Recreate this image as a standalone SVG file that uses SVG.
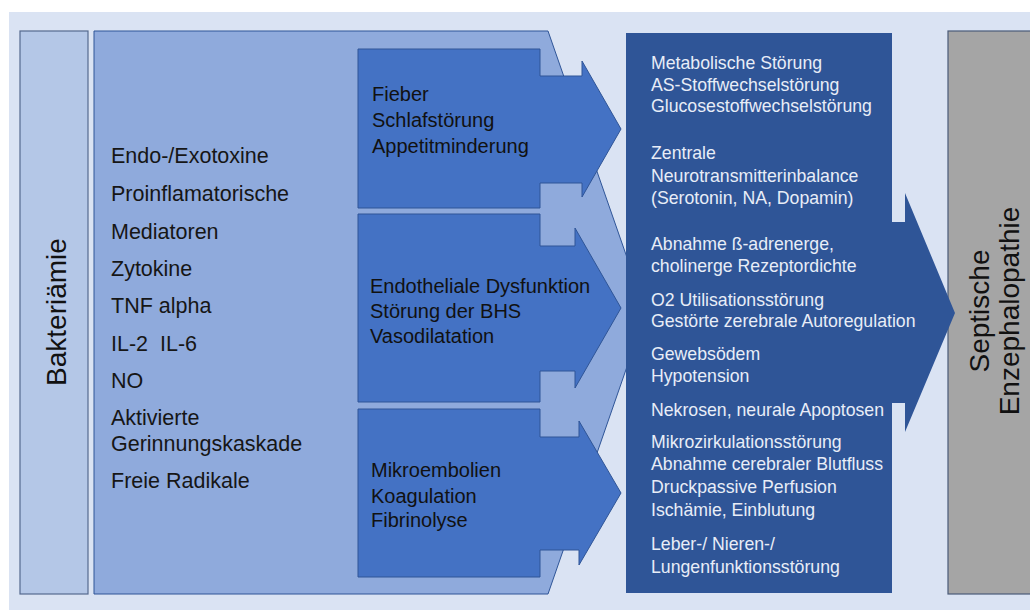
<svg xmlns="http://www.w3.org/2000/svg" width="1030" height="610" viewBox="0 0 1030 610">
<style>
text{font-family:"Liberation Sans",Arial,sans-serif}
.lt{font-size:21.5px;fill:#161616}
.al{font-size:20px;fill:#111111}
.dt{font-size:17.7px;fill:#E8EDF7}
.rt{font-size:28px;fill:#111111;text-anchor:middle}
.inner{fill:#4472C4;stroke:#2F5597;stroke-width:1}
</style>
<rect x="9" y="12" width="1021" height="598" fill="#DAE3F3"/>
<g id="bakteriaemie">
<rect x="20" y="31" width="68" height="563" fill="#B4C7E7" stroke="#55698F" stroke-width="1.2"/>
<text class="rt" transform="translate(66,312) rotate(-90)">Bakteriämie</text>
</g>
<g id="mediatoren">
<path d="M94,31 H548 L646,312 L548,594 H94 Z" fill="#8FAADC" stroke="#2F5597" stroke-width="1"/>
<text class="lt" x="111" y="163">Endo-/Exotoxine</text>
<text class="lt" x="111" y="201">Proinflamatorische</text>
<text class="lt" x="111" y="239">Mediatoren</text>
<text class="lt" x="111" y="276">Zytokine</text>
<text class="lt" x="111" y="313">TNF alpha</text>
<text class="lt" x="111" y="351">IL-2&#160; IL-6</text>
<text class="lt" x="111" y="388">NO</text>
<text class="lt" x="111" y="425">Aktivierte</text>
<text class="lt" x="111" y="451">Gerinnungskaskade</text>
<text class="lt" x="111" y="488">Freie Radikale</text>
</g>
<g id="arrow-fieber">
<path class="inner" d="M358,49 H540 V76 H582 V61 L621,129 L582,197 V183 H540 V208 H358 Z"/>
<text class="al" x="372" y="101">Fieber</text>
<text class="al" x="372" y="127">Schlafstörung</text>
<text class="al" x="372" y="153">Appetitminderung</text>
</g>
<g id="arrow-endothel">
<path class="inner" d="M358,214 H540 V246 H575 V228 L621,308 L575,388 V371 H540 V402 H358 Z"/>
<text class="al" x="370" y="293">Endotheliale Dysfunktion</text>
<text class="al" x="370" y="318">Störung der BHS</text>
<text class="al" x="370" y="343">Vasodilatation</text>
</g>
<g id="arrow-mikroembolien">
<path class="inner" d="M358,409 H540 V437 H579 V421 L621,493 L579,565 V550 H540 V577 H358 Z"/>
<text class="al" x="371" y="477">Mikroembolien</text>
<text class="al" x="371" y="503">Koagulation</text>
<text class="al" x="371" y="527">Fibrinolyse</text>
</g>
<g id="enzephalopathie">
<rect x="948" y="31" width="90" height="563" fill="#A5A5A5" stroke="#4A5A78" stroke-width="1.2"/>
<text class="rt" transform="translate(989,311) rotate(-90)">Septische</text>
<text class="rt" transform="translate(1019,311) rotate(-90)">Enzephalopathie</text>
</g>
<g id="folgen">
<path d="M626,33 H892 V222 H905 V193 L955,313 L905,432 V403 H892 V593 H626 Z" fill="#2F5597"/>
<text class="dt" x="651" y="69">Metabolische Störung</text>
<text class="dt" x="651" y="90.5">AS-Stoffwechselstörung</text>
<text class="dt" x="651" y="112">Glucosestoffwechselstörung</text>
<text class="dt" x="651" y="159">Zentrale</text>
<text class="dt" x="651" y="182">Neurotransmitterinbalance</text>
<text class="dt" x="651" y="204">(Serotonin, NA, Dopamin)</text>
<text class="dt" x="651" y="250">Abnahme ß-adrenerge,</text>
<text class="dt" x="651" y="272">cholinerge Rezeptordichte</text>
<text class="dt" x="651" y="305.5">O2 Utilisationsstörung</text>
<text class="dt" x="651" y="327">Gestörte zerebrale Autoregulation</text>
<text class="dt" x="651" y="360">Gewebsödem</text>
<text class="dt" x="651" y="382">Hypotension</text>
<text class="dt" x="651" y="416">Nekrosen, neurale Apoptosen</text>
<text class="dt" x="651" y="448">Mikrozirkulationsstörung</text>
<text class="dt" x="651" y="469.5">Abnahme cerebraler Blutfluss</text>
<text class="dt" x="651" y="493">Druckpassive Perfusion</text>
<text class="dt" x="651" y="515.5">Ischämie, Einblutung</text>
<text class="dt" x="651" y="550">Leber-/ Nieren-/</text>
<text class="dt" x="651" y="573">Lungenfunktionsstörung</text>
</g>
<g id="connectors"/>
</svg>
